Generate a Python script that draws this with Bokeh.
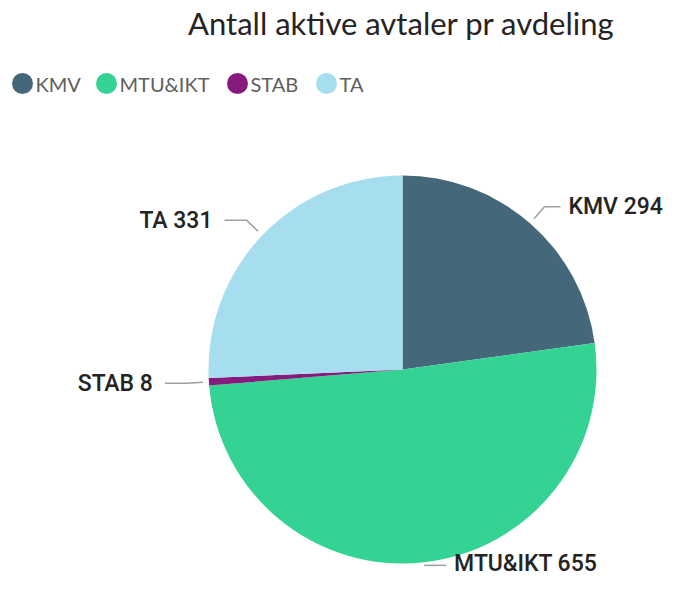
import math
from bokeh.plotting import figure
from bokeh.models import Range1d, ColumnDataSource
from bokeh.core.properties import value
from bokeh.embed import file_html
from bokeh.resources import INLINE

# ---- data ----
categories = ["KMV", "MTU&IKT", "STAB", "TA"]
counts = [294, 655, 8, 331]
colors = ["#44687A", "#34D394", "#861B7E", "#A6DDEF"]
title_text = "Antall aktive avtaler pr avdeling"

# ---- layout (page pixel coordinates, y measured from bottom) ----
W, H = 671, 580
cx, cy, R = 402, 596 - 369, 194

p = figure(width=W, height=H, output_backend="svg", toolbar_location=None,
           x_range=Range1d(0, W), y_range=Range1d(596 - H, 596),
           min_border=0, outline_line_color=None)
p.axis.visible = False
p.grid.visible = False
p.background_fill_color = "white"

total = sum(counts)
starts, ends, mids = [], [], []
cum = 0
for c in counts:
    a0 = math.pi / 2 - 2 * math.pi * cum / total
    cum += c
    a1 = math.pi / 2 - 2 * math.pi * cum / total
    starts.append(a0)
    ends.append(a1)
    mids.append((a0 + a1) / 2)

src = ColumnDataSource(dict(cat=categories, val=counts, color=colors,
                            start=starts, end=ends))
p.wedge(x=cx, y=cy, radius=R, start_angle="start", end_angle="end",
        direction="clock", fill_color="color", line_color=None, source=src)

# leader lines and labels
lx, ly, tx, ty, talign, texts = [], [], [], [], [], []
for cat, c, m in zip(categories, counts, mids):
    bottom = math.sin(m) < -0.9
    if bottom:
        x0 = cx + (R + 3) * math.cos(m)
        y0 = cy + (R + 3) * math.sin(m)
        x1, y1 = x0, y0
        ty_off = 2
    else:
        x0 = cx + (R + 6) * math.cos(m)
        y0 = cy + (R + 6) * math.sin(m)
        x1 = cx + (R + 22) * math.cos(m)
        y1 = cy + (R + 22) * math.sin(m)
        ty_off = 0
    side = 1 if math.cos(m) > 0.05 or bottom else -1
    seg = 16 if (side > 0 and not bottom) else 22
    gap = 8 if side > 0 else 12
    x2 = x1 + side * seg
    lx.append([x0, x1, x2])
    ly.append([y0, y1, y1])
    tx.append(x2 + side * gap)
    ty.append(y1 + ty_off)
    talign.append("left" if side > 0 else "right")
    texts.append(f"{cat} {c}")

p.multi_line(xs=lx, ys=ly, line_color="#A0A0A0", line_width=1.5)
lsrc = ColumnDataSource(dict(x=tx, y=ty, t=texts, a=talign))
p.text(x="x", y="y", text="t", text_align="a", text_baseline="middle",
       text_font=value("Roboto Medium"), text_font_style="normal",
       text_font_size="23px", text_color="#252423", source=lsrc)

# title
p.text(x=[401], y=[596 - 22], text=[title_text], text_align="center",
       text_baseline="middle", text_font=value("Lato"),
       text_font_size="31px", text_color="#252423")

# legend (manual)
leg_x = [22, 106, 237, 326]
leg_y = [596 - 83] * 4
p.scatter(x=leg_x, y=leg_y, size=21, marker="circle", fill_color=colors, line_color=None)
p.text(x=[x + 13 for x in leg_x], y=leg_y, text=categories, text_align="left",
       text_baseline="middle", text_font=value("Lato"),
       text_font_size="20px", text_color="#605E5C")

open("out.html", "w").write(file_html(p, INLINE))
